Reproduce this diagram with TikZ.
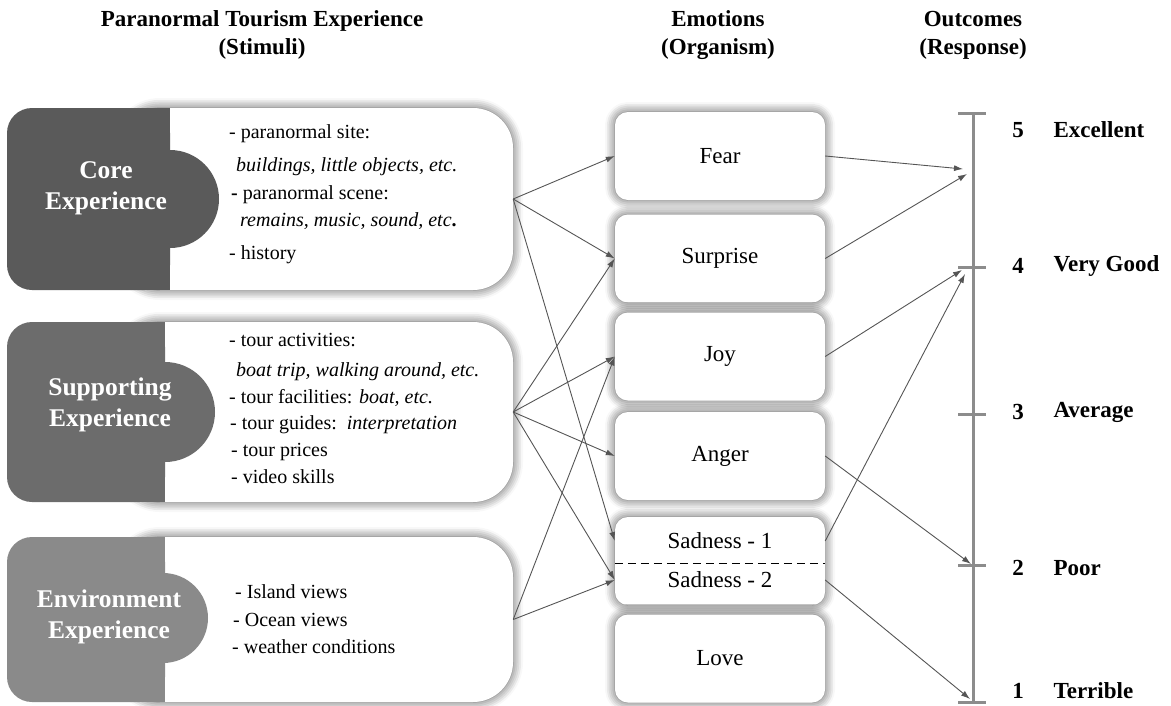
\documentclass[tikz,border=0pt]{standalone}
\usepackage{fontspec}
\setmainfont{Liberation Serif}
\usetikzlibrary{shadows.blur,arrows.meta}
\definecolor{coredark}{RGB}{90,90,90}
\definecolor{suppdark}{RGB}{108,108,108}
\definecolor{envdark}{RGB}{138,138,138}
\definecolor{arrowgray}{RGB}{85,85,85}
\definecolor{scalegray}{RGB}{140,140,140}
\begin{document}
\begin{tikzpicture}[x=1pt, y=-1pt, line join=round, >={Latex[length=9pt,width=6pt]},
	halo/.style={blur shadow={shadow xshift=0pt, shadow yshift=0pt, shadow blur radius=10pt, shadow blur steps=6, shadow opacity=70}},
	wbox/.style={fill=white, rounded corners=40pt, halo, minimum width=393pt},
	emo/.style={fill=white, rounded corners=13pt, halo, minimum width=210pt, minimum height=88pt, font=\fontsize{23}{27}\selectfont},
	half/.style={inner sep=0pt, minimum width=210pt, font=\fontsize{23}{27}\selectfont},
	darklab/.style={text=white, align=center, font=\fontsize{25.5}{31}\selectfont\bfseries},
	item/.style={anchor=west, inner sep=0pt, font=\fontsize{20}{24}\selectfont},
	head/.style={align=center, font=\fontsize{23}{28}\selectfont\bfseries},
	conn/.style={->, draw=arrowgray, line width=0.9pt},
	scl/.style={draw=scalegray, line width=3pt},
	sclab/.style={font=\fontsize{23}{27}\selectfont\bfseries}]
	\useasboundingbox (0,0) rectangle (1171,705);
	% headings
	\node[head] (stim) at (262,35) {Paranormal Tourism Experience\\(Stimuli)};
	\node[head] (org) at (718,35) {Emotions\\(Organism)};
	\node[head] (resp) at (973,35) {Outcomes\\(Response)};
	% stimuli blocks
	\node[wbox, minimum height=182pt] (core) at (316.5,199) {};
	\node[wbox, minimum height=180pt] (supp) at (316.5,412) {};
	\node[wbox, minimum height=165pt] (env) at (316.5,619.5) {};
	\fill[coredark, rounded corners=25pt] (7,108) rectangle (170,290);
	\fill[coredark] (140,108) rectangle (170,290);
	\fill[coredark] (170,199) circle[radius=49pt];
	\fill[suppdark, rounded corners=25pt] (7,322) rectangle (165,502);
	\fill[suppdark] (135,322) rectangle (165,502);
	\fill[suppdark] (165,412) circle[radius=50pt];
	\fill[envdark, rounded corners=25pt] (7,537) rectangle (165,702);
	\fill[envdark] (135,537) rectangle (165,702);
	\fill[envdark] (163,618) circle[radius=45pt];
	\node[darklab] (corelab) at (106,188) {Core\\Experience};
	\node[darklab] (supplab) at (110,405) {Supporting\\Experience};
	\node[darklab] (envlab) at (109,617) {Environment\\Experience};
	\foreach \x/\y/\txt [count=\i] in {229/134/{- paranormal site:}, 236/167/{\textit{buildings, little objects, etc.}},
		231/195/{\textbf{-} paranormal scene:}, 240/221/{\textit{remains, music, sound, etc}\textbf{.}}, 229/255/{- history}}
		\node[item] (corei\i) at (\x,\y) {\txt};
	\foreach \x/\y/\txt [count=\i] in {229/340/{- tour activities:}, 236/372/{\textit{boat trip, walking around, etc.}},
		229/398/{- tour facilities: \textit{boat, etc.}}, 230/425/{- tour guides:\ \ \textit{interpretation}},
		231/452/{- tour prices}, 231/477/{- video skills}}
		\node[item] (suppi\i) at (\x,\y) {\txt};
	\foreach \x/\y/\txt [count=\i] in {235/592/{- Island views}, 233/620/{- Ocean views}, 232/647/{- weather conditions}}
		\node[item] (envi\i) at (\x,\y) {\txt};
	% emotions
	\node[emo] (fear) at (720,156) {Fear};
	\node[emo] (surprise) at (720,258.5) {Surprise};
	\node[emo] (joy) at (720,356.5) {Joy};
	\node[emo] (anger) at (720,456) {Anger};
	\node[emo] (sadness) at (720,561) {};
	\node[emo] (love) at (720,658.5) {Love};
	\node[half, minimum height=44pt] (sad1) at (720,541) {Sadness - 1};
	\node[half, minimum height=34pt] (sad2) at (720,580) {Sadness - 2};
	\draw[dashed, line width=1.3pt, dash pattern=on 8pt off 5pt] (sad1.south west) -- (sad1.south east);
	% outcome scale
	\draw[scl] (973,113) -- (973,702);
	\foreach \y in {113,267,414,565,702}
		\draw[scl] (958,\y) -- (986,\y);
	\foreach \n/\lab/\y in {5/Excellent/130, 4/Very Good/266, 3/Average/412, 2/Poor/568, 1/Terrible/691}{
		\node[sclab] (num\n) at (1018,\y) {\n};
		\node[sclab, anchor=west] (out\n) at (1050,\y) {\lab};
	}
	\coordinate (e5a) at (963,169);
	\coordinate (e5b) at (967,174);
	\coordinate (e4a) at (962,270);
	\coordinate (e4b) at (965,274);
	\coordinate (e2) at (971,564);
	\coordinate (e1) at (970,699);
	% stimuli -> emotions
	\draw[conn] (core.east) -- (fear.west);
	\draw[conn] (core.east) -- (surprise.west);
	\draw[conn] (core.east) -- (sad1.west);
	\draw[conn] (supp.east) -- (surprise.west);
	\draw[conn] (supp.east) -- (joy.west);
	\draw[conn] (supp.east) -- (anger.west);
	\draw[conn] (supp.east) -- (sad2.west);
	\draw[conn] (env.east) -- (joy.west);
	\draw[conn] (env.east) -- (sad2.west);
	% emotions -> outcomes
	\draw[conn] (fear.east) -- (e5a);
	\draw[conn] (surprise.east) -- (e5b);
	\draw[conn] (joy.east) -- (e4a);
	\draw[conn] (sad1.east) -- (e4b);
	\draw[conn] (anger.east) -- (e2);
	\draw[conn] (sad2.east) -- (e1);
\end{tikzpicture}
\end{document}
